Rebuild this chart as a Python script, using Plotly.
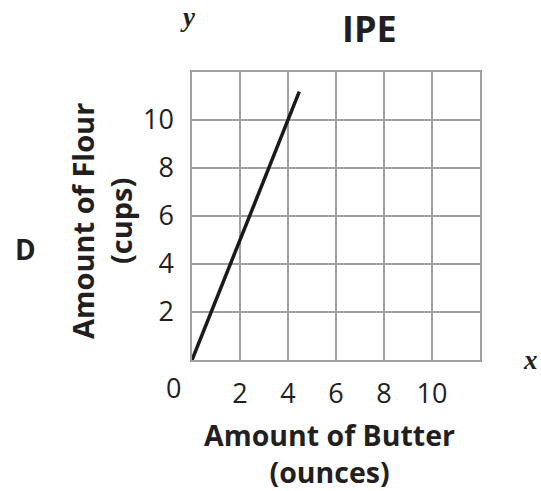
import plotly.graph_objects as go

butter = [0, 4.47]
flour = [0, 11.18]
x_ticks = [2, 4, 6, 8, 10]
y_ticks = [2, 4, 6, 8, 10]

FONT = "Open Sans"
TXT = "#231f20"
GRID = "#a0a0a0"

fig = go.Figure()
fig.add_trace(go.Scatter(x=butter, y=flour, mode="lines",
                         line=dict(color="#1a1a1a", width=3.5),
                         showlegend=False, hoverinfo="skip"))

fig.update_layout(
    width=541, height=491,
    margin=dict(l=192, r=61, t=72, b=131),
    paper_bgcolor="white", plot_bgcolor="white",
    font=dict(family=FONT, color=TXT),
    xaxis=dict(range=[0, 12], tickvals=x_ticks, ticktext=[str(v) for v in x_ticks],
               showgrid=True, gridcolor=GRID, gridwidth=1.5,
               showline=True, linecolor=GRID, linewidth=1.5, mirror=True,
               zeroline=False, ticks="", ticklabelstandoff=9,
               tickfont=dict(size=27, family=FONT, color=TXT), fixedrange=True),
    yaxis=dict(range=[0, 12], tickvals=y_ticks, ticktext=[str(v) for v in y_ticks],
               showgrid=True, gridcolor=GRID, gridwidth=1.5,
               showline=True, linecolor=GRID, linewidth=1.5, mirror=True,
               zeroline=False, ticks="", ticklabelstandoff=11,
               tickfont=dict(size=27, family=FONT, color=TXT), fixedrange=True),
)

anns = [
    dict(text="0", x=173.5, y=387, font=dict(size=27)),
    dict(text="<b>IPE</b>", x=369, y=29, font=dict(size=36)),
    dict(text="<b><i>y</i></b>", x=188, y=17, font=dict(size=27, family="Liberation Serif")),
    dict(text="<b><i>x</i></b>", x=530, y=360, font=dict(size=27, family="Liberation Serif")),
    dict(text="<b>D</b>", x=25, y=249, font=dict(size=28)),
    dict(text="<b>Amount of Flour</b><br><b>(cups)</b>", x=101, y=221, textangle=-90,
         font=dict(size=29)),
    dict(text="<b>Amount of Butter</b><br><b>(ounces)</b>", x=329, y=453, font=dict(size=28.5)),
]
for a in anns:
    a.setdefault("xref", "paper")
    a.setdefault("yref", "paper")
    a["x"] = (a["x"] - 192) / (541 - 192 - 61)
    a["y"] = 1 - (a["y"] - 72) / (491 - 72 - 131)
    a["showarrow"] = False
    a["xanchor"] = "center"
    a["yanchor"] = "middle"
    a["align"] = "center"
    a["borderpad"] = 0
    a["font"].setdefault("family", FONT)
    a["font"]["color"] = TXT
    fig.add_annotation(**a)

fig.write_html("out.html", config={"displayModeBar": False},
               post_script="document.body.style.margin='0';document.body.style.overflow='hidden';")
